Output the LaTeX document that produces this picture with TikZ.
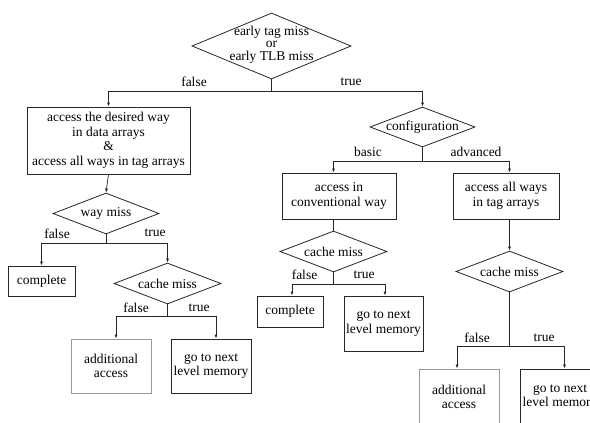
\documentclass[tikz,border=0pt]{standalone}
\usepackage{fontspec}
\setmainfont{Liberation Serif}
\usetikzlibrary{shapes.geometric,arrows.meta}
\begin{document}
\begin{tikzpicture}[x=1pt,y=-1pt,
  every node/.style={font=\fontsize{13.5}{14.5}\selectfont},
  boxn/.style={draw=black!85, line width=0.9pt, inner sep=0pt, align=center},
  greybox/.style={boxn, draw=black!40, line width=1pt},
  dia/.style={draw=black!85, line width=0.8pt, diamond, inner sep=0pt},
  lab/.style={inner sep=0pt},
  conn/.style={line width=0.7pt, draw=black!85},
  arr/.style={conn, -{Latex[length=4pt,width=3pt]}}
]
\useasboundingbox (0,0) rectangle (590,423);
\clip (0,0) rectangle (590,423);

% top diamond
\node[dia, minimum width=159pt, minimum height=66pt,
  label={[align=center, inner sep=0pt, yshift=1.5pt, font=\fontsize{13.5}{12.5}\selectfont]center:early tag miss\\or\\early TLB miss}] (d1) at (271.5,46) {};

% left branch
\node[boxn, minimum width=163pt, minimum height=67pt] (b1) at (108.5,140.5)
  {access the desired way\\in data arrays\\\&\\access all ways in tag arrays};
\node[dia, minimum width=106pt, minimum height=41pt, label={center:way miss}] (d2) at (106,213.5) {};
\node[boxn, minimum width=67pt, minimum height=30pt] (b2) at (41.5,281) {complete};
\node[dia, minimum width=107pt, minimum height=41pt, label={center:cache miss}] (d3) at (167.5,283.5) {};
\node[greybox, minimum width=80pt, minimum height=54pt] (b3) at (111,366) {additional\\access};
\node[boxn, minimum width=80pt, minimum height=54pt] (b4) at (211,366) {go to next\\level memory};

% right branch
\node[dia, minimum width=105pt, minimum height=40pt, label={center:configuration}] (d4) at (422.5,127) {};
\node[boxn, minimum width=114pt, minimum height=46pt] (b5) at (339,196) {access in\\conventional way};
\node[boxn, minimum width=106pt, minimum height=46pt] (b6) at (506,196) {access all ways\\in tag arrays};
\node[dia, minimum width=107pt, minimum height=41pt, label={center:cache miss}] (d5) at (333.5,251.5) {};
\node[boxn, minimum width=66pt, minimum height=31pt] (b7) at (290,311.5) {complete};
\node[boxn, minimum width=79pt, minimum height=55pt] (b8) at (383.5,323.5) {go to next\\level memory};
\node[dia, minimum width=107pt, minimum height=41pt, label={center:cache miss}] (d6) at (509.5,271.5) {};
\node[greybox, minimum width=80pt, minimum height=56pt] (b9) at (459,397) {additional\\access};
\node[boxn, minimum width=80pt, minimum height=56pt] (b10) at (560,397) {go to next\\level memory};

% connectors
\draw[arr] (d1.south) -- ++(0,12) -| (b1.north);
\draw[arr] (d1.south) -- ++(0,12) -| (d4.north);
\draw[arr] (b1.south) -- (d2.north);
\draw[arr] (d2.south) -- ++(0,9) -| (b2.north);
\draw[arr] (d2.south) -- ++(0,9) -| (d3.north);
\draw[arr] (d3.south) -- ++(0,12) -| ([xshift=5pt]b3.north);
\draw[arr] (d3.south) -- ++(0,12) -| ([xshift=5pt]b4.north);
\draw[arr] (d4.south) -- ++(0,14) -| (d5.north |- b5.north);
\draw[arr] (d4.south) -- ++(0,14) -| (d6.north |- b6.north);
\draw[conn] (d5.north |- b5.south) -- (d5.north);
\draw[arr] (d6.north |- b6.south) -- (d6.north);
\draw[arr] (d5.south) -- ++(0,12) -| ([xshift=2pt]b7.north);
\draw[arr] (d5.south) -- ++(0,12) -| ([xshift=1.5pt]b8.north);
\draw[arr] (d6.south) -- ++(0,54) -| ([xshift=-2pt]b9.north);
\draw[arr] (d6.south) -- ++(0,54) -| ([xshift=4.5pt]b10.north);

% branch labels
\node[lab] (l1) at (194,82) {false};
\node[lab] (l2) at (351,82) {true};
\node[lab] (l3) at (57,234) {false};
\node[lab] (l4) at (155,233) {true};
\node[lab] (l5) at (136,308) {false};
\node[lab] (l6) at (199,308) {true};
\node[lab] (l7) at (368,152) {basic};
\node[lab] (l8) at (476,152) {advanced};
\node[lab] (l9) at (304.5,275) {false};
\node[lab] (l10) at (364,275) {true};
\node[lab] (l11) at (477,338) {false};
\node[lab] (l12) at (544,338) {true};
\end{tikzpicture}
\end{document}
